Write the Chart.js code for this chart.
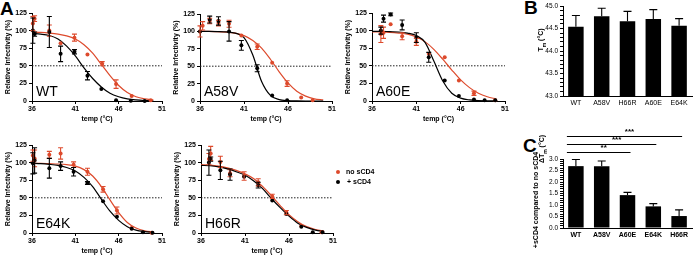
<!DOCTYPE html>
<html>
<head>
<meta charset="utf-8">
<script src="https://cdn.jsdelivr.net/npm/chart.js@4.4.1/dist/chart.umd.min.js"></script>
<style>
  body { margin: 0; width: 696px; height: 256px; position: relative; background: #fff; overflow: hidden;
         font-family: "Liberation Sans", Arial, sans-serif; }
  .box { position: absolute; }
  .letter { position: absolute; font-weight: bold; font-size: 19px; line-height: 1; }
  .vtitle { position: absolute; transform: translate(-50%, -50%) rotate(-90deg); white-space: nowrap;
            font-weight: bold; font-size: 7px; line-height: 1; }
  .leg { position: absolute; font-weight: bold; font-size: 7px; line-height: 1; white-space: nowrap; }
  .dot { position: absolute; width: 4px; height: 4px; border-radius: 50%; }
</style>
</head>
<body>

<div class="letter" style="left:0;top:-1px">A</div>
<div class="letter" style="left:524px;top:-2px">B</div>
<div class="letter" style="left:523px;top:136px">C</div>

<div class="box" style="left:4px;top:0;width:164px;height:123px"><canvas id="c-wt"></canvas></div>
<div class="box" style="left:172px;top:0;width:166px;height:123px"><canvas id="c-a58v"></canvas></div>
<div class="box" style="left:344px;top:0;width:167px;height:123px"><canvas id="c-a60e"></canvas></div>
<div class="box" style="left:4px;top:120px;width:164px;height:135px"><canvas id="c-e64k"></canvas></div>
<div class="box" style="left:173px;top:120px;width:166px;height:135px"><canvas id="c-h66r"></canvas></div>
<div class="box" style="left:539px;top:0;width:157px;height:112px"><canvas id="c-tm"></canvas></div>
<div class="box" style="left:539px;top:120px;width:157px;height:124px"><canvas id="c-dtm"></canvas></div>

<div class="vtitle" style="left:542px;top:40px">T<sub style="font-size:5px">m</sub> (°C)</div>
<div class="vtitle" style="left:543px;top:149px">ΔT<sub style="font-size:5px">m</sub> (°C)</div>
<div class="vtitle" style="left:535px;top:200px">+sCD4 compared to no sCD4</div>

<div class="dot" style="left:336px;top:170px;background:#dd4a2c"></div>
<div class="leg" style="left:346px;top:168px">no sCD4</div>
<div class="dot" style="left:336px;top:180px;background:#000"></div>
<div class="leg" style="left:347px;top:178px">+ sCD4</div>

<script>
const RED = '#dd4a2c';
const BLACK = '#000';

const TEMP_TICKS = [36, 41, 46, 51];
const CUTOFF = 50;
const FIT_T = [36, 37, 38, 39, 40, 41, 42, 43, 44, 45, 46, 47, 48, 49, 50];

// WT
const wtFitNo   = [98, 97.5, 96.5, 95, 92.5, 88, 80, 68, 52, 36, 22, 12, 6, 3, 1.5];
const wtFitPlus = [96, 95, 93, 88, 78, 64, 47, 32, 20, 11, 6, 3, 1.5, 0.7, 0.3];
const wtTNo     = [36.1, 36.3, 38.0, 39.3, 40.9, 42.4, 44.1, 45.7, 47.5, 49.7];
const wtNo      = [110, 117, 100, 82, 90, 66, 53, 24, 7, 1];
const wtNoErr   = [10, 4, 8, 0, 5, 0, 3, 6, 0, 0];
const wtTPlus   = [36.1, 36.3, 38.0, 39.3, 40.9, 42.4, 44.0, 45.7, 47.4, 49.0];
const wtPlus    = [100, 95, 98, 67, 70, 36, 17, 1, 0.5, 0];
const wtPlusErr = [18, 3, 22, 11, 3, 6, 0, 0, 0, 0];

// A58V
const a58FitNo   = [100, 100, 99.5, 99, 97.5, 94, 87, 76, 60, 42, 26, 14, 7, 3, 1.5];
const a58FitPlus = [100, 100, 99.8, 99.3, 97.5, 91, 66, 28, 8, 2, 0.5, 0.1, 0, 0, 0];
const a58TNo     = [36.0, 36.3, 37.1, 38.1, 39.3, 40.7, 42.5, 44.2, 45.9, 47.5, 48.8];
const a58No      = [100, 108, 115, 112, 111, 94, 78, 55, 25, 5, 1];
const a58NoErr   = [8, 6, 4, 4, 5, 0, 4, 0, 4, 0, 0];
const a58TPlus   = [36.0, 37.1, 38.1, 39.3, 40.7, 42.5, 44.2, 45.9];
const a58Plus    = [100, 117, 115, 100, 80, 47, 8, 1];
const a58PlusErr = [0, 5, 6, 14, 7, 5, 0, 0];

// A60E
const a60FitNo   = [98, 98, 97.5, 96.5, 95, 91, 84, 73, 59, 44, 30, 19, 11, 6, 3];
const a60FitPlus = [99, 99, 98.5, 98, 96.5, 93, 83, 56, 28, 11, 4, 1.5, 0.5, 0.2, 0];
const a60TNo     = [37.0, 37.3, 38.1, 39.4, 41.0, 42.4, 44.2, 45.8, 47.5, 49.9];
const a60No      = [95, 97, 109, 92, 84, 67, 62, 29, 11, 1];
const a60NoErr   = [12, 8, 0, 5, 5, 0, 0, 0, 3, 0];
const a60TPlus   = [37.0, 37.3, 38.1, 39.4, 41.0, 42.4, 44.2, 45.8, 47.5, 48.7, 49.9];
const a60Plus    = [100, 117, 123, 108, 90, 62, 29, 7, 2, 1, 1];
const a60PlusErr = [5, 5, 2, 7, 7, 7, 0, 0, 0, 0, 0];

// E64K
const e64FitNo   = [99, 99, 98.5, 98, 97, 95, 90, 81, 66, 47, 29, 15, 7, 3, 1.5];
const e64FitPlus = [99, 98.5, 97.5, 96, 93, 88, 79, 66, 48, 31, 18, 9, 4, 2, 1];
const e64TNo     = [36.1, 36.3, 38.0, 39.3, 40.8, 42.4, 44.2, 45.8, 47.5, 49.8];
const e64No      = [110, 106, 111, 113, 97, 87, 62, 32, 7, 0.5];
const e64NoErr   = [8, 12, 5, 8, 4, 5, 4, 5, 0, 0];
const e64TPlus   = [36.1, 36.3, 38.0, 39.3, 40.8, 42.4, 44.2, 45.8, 47.5, 48.8, 49.9];
const e64Plus    = [99, 103, 92, 95, 87, 71, 45, 23, 6, 1, 0.5];
const e64PlusErr = [15, 18, 14, 6, 6, 2, 0, 0, 0, 0, 0];

// H66R
const h66FitNo   = [97, 96.5, 95, 92.5, 89, 84, 77, 66, 53, 39, 26, 16, 9, 5, 2.5];
const h66FitPlus = [96, 95.5, 94, 91, 87, 82, 74, 63, 49, 36, 24, 14, 8, 4, 2];
const h66TNo     = [36.9, 37.1, 38.2, 39.3, 40.9, 42.5, 44.1, 45.7, 47.4, 49.7];
const h66No      = [105, 113, 101, 85, 81, 72, 52, 29, 10, 1];
const h66NoErr   = [8, 10, 8, 5, 6, 5, 3, 3, 0, 0];
const h66TPlus   = [36.9, 37.1, 38.2, 39.3, 40.9, 42.5, 44.1, 45.7, 47.4, 48.7, 49.8];
const h66Plus    = [100, 105, 89, 83, 80, 68, 46, 27, 9, 1, 1];
const h66PlusErr = [18, 3, 13, 8, 0, 4, 0, 0, 0, 0, 0];

// B: Tm
const tmLabels = ['WT', 'A58V', 'H66R', 'A60E', 'E64K'];
const tmValues = [44.54, 44.77, 44.66, 44.71, 44.56];
const tmErr    = [0.25, 0.18, 0.22, 0.21, 0.16];

// C: delta Tm
const dtmLabels = ['WT', 'A58V', 'A60E', 'E64K', 'H66R'];
const dtmValues = [2.69, 2.69, 1.43, 0.94, 0.52];
const dtmErr    = [0.29, 0.22, 0.12, 0.12, 0.27];
// [from, to, stars, height in axis units]
const dtmSig = [[0, 4, '***', 4.0], [0, 3, '***', 3.66], [0, 2, '**', 3.31]];

const tickFont = { family: 'Liberation Sans', size: 7, weight: 'bold' };
const axisLine = { color: BLACK, width: 1 };
const tickGrid = { drawOnChartArea: false, drawTicks: true, tickLength: 3, color: BLACK, lineWidth: 1 };

// error whiskers drawn through the y scale
const errorBars = {
    id: 'errorBars',
    afterDatasetsDraw(chart) {
        const ctx = chart.ctx, y = chart.scales.y;
        chart.data.datasets.forEach((ds, i) => {
            if (!ds.errors) return;
            const meta = chart.getDatasetMeta(i);
            ctx.save();
            ctx.strokeStyle = ds.errColor || ds.borderColor;
            ctx.lineWidth = 1.1;
            meta.data.forEach((el, j) => {
                const e = ds.errors[j];
                if (!e) return;
                const v = typeof ds.data[j] === 'object' ? ds.data[j].y : ds.data[j];
                const x = el.x;
                const top = y.getPixelForValue(v + e);
                const bot = ds.upOnly ? el.y : y.getPixelForValue(v - e);
                const cap = ds.capHalf || 2.5;
                ctx.beginPath();
                ctx.moveTo(x, top); ctx.lineTo(x, bot);
                ctx.moveTo(x - cap, top); ctx.lineTo(x + cap, top);
                if (!ds.upOnly) { ctx.moveTo(x - cap, bot); ctx.lineTo(x + cap, bot); }
                ctx.stroke();
            });
            ctx.restore();
        });
    }
};

const panelName = {
    id: 'panelName',
    afterDraw(chart, args, opts) {
        if (!opts.text) return;
        const ctx = chart.ctx, a = chart.chartArea;
        ctx.save();
        ctx.font = '14px "Liberation Sans", Arial, sans-serif';
        ctx.fillStyle = BLACK;
        ctx.textBaseline = 'alphabetic';
        ctx.fillText(opts.text, a.left + 4, a.bottom - 5);
        ctx.restore();
    }
};

const sigLines = {
    id: 'sigLines',
    afterDraw(chart, args, opts) {
        if (!opts.pairs) return;
        const ctx = chart.ctx, x = chart.scales.x, y = chart.scales.y;
        ctx.save();
        ctx.strokeStyle = BLACK; ctx.fillStyle = BLACK; ctx.lineWidth = 1.1;
        ctx.font = 'bold 8px "Liberation Sans", Arial, sans-serif';
        ctx.textAlign = 'center'; ctx.textBaseline = 'bottom';
        opts.pairs.forEach(([a, b, s, h]) => {
            const x0 = x.getPixelForValue(a) - 9, x1 = x.getPixelForValue(b) + 3;
            const py = Math.round(y.getPixelForValue(h)) + 0.5;
            ctx.beginPath(); ctx.moveTo(x0, py); ctx.lineTo(x1, py); ctx.stroke();
            ctx.fillText(s, (x0 + x1) / 2 + 5, py - 1);
        });
        ctx.restore();
    }
};

Chart.register(errorBars, panelName, sigLines);
Chart.defaults.font.family = 'Liberation Sans';
Chart.defaults.color = BLACK;

function pts(xs, ys) { return xs.map((t, i) => ({ x: t, y: ys[i] })); }

function curvePanel(id, name, padTop, fitNo, fitPlus, tNo, vNo, eNo, tPlus, vPlus, ePlus) {
    new Chart(document.getElementById(id), {
        type: 'scatter',
        data: { datasets: [
            { data: pts(tNo, vNo), errors: eNo, borderColor: RED, backgroundColor: RED,
              pointRadius: 2, pointBorderWidth: 0, clip: false, order: 1 },
            { data: pts(tPlus, vPlus), errors: ePlus, borderColor: BLACK, backgroundColor: BLACK,
              pointRadius: 2, pointBorderWidth: 0, clip: false, order: 0 },
            { data: pts(FIT_T, fitNo), showLine: true, borderColor: RED, borderWidth: 1.2,
              pointRadius: 0, cubicInterpolationMode: 'monotone', order: 3 },
            { data: pts(FIT_T, fitPlus), showLine: true, borderColor: BLACK, borderWidth: 1.2,
              pointRadius: 0, cubicInterpolationMode: 'monotone', order: 2 },
            { data: [{ x: 36, y: CUTOFF }, { x: 51, y: CUTOFF }], showLine: true, borderColor: '#222',
              borderWidth: 1, borderDash: [1.5, 1.5], pointRadius: 0, order: 4 }
        ] },
        options: {
            responsive: true, maintainAspectRatio: false, animation: false,
            layout: { padding: { top: padTop, right: 6, left: 0, bottom: 0 } },
            scales: {
                x: { type: 'linear', min: 36, max: 51,
                     afterBuildTicks: s => { s.ticks = TEMP_TICKS.map(v => ({ value: v })); },
                     afterFit: s => { s.height = 22; },
                     border: axisLine, grid: tickGrid,
                     ticks: { font: tickFont, padding: 1, maxRotation: 0 },
                     title: { display: true, text: 'temp (°C)', font: tickFont, padding: 0 } },
                y: { min: 0, max: 125, ticks: { stepSize: 25, font: tickFont, padding: 2 },
                     afterFit: s => { s.width = 28; },
                     border: axisLine, grid: tickGrid,
                     title: { display: true, text: 'Relative Infectivity (%)', font: tickFont, padding: 0 } }
            },
            plugins: { legend: { display: false }, tooltip: { enabled: false }, panelName: { text: name } }
        }
    });
}

curvePanel('c-wt', 'WT', 13, wtFitNo, wtFitPlus, wtTNo, wtNo, wtNoErr, wtTPlus, wtPlus, wtPlusErr);
curvePanel('c-a58v', 'A58V', 14, a58FitNo, a58FitPlus, a58TNo, a58No, a58NoErr, a58TPlus, a58Plus, a58PlusErr);
curvePanel('c-a60e', 'A60E', 13, a60FitNo, a60FitPlus, a60TNo, a60No, a60NoErr, a60TPlus, a60Plus, a60PlusErr);
curvePanel('c-e64k', 'E64K', 25, e64FitNo, e64FitPlus, e64TNo, e64No, e64NoErr, e64TPlus, e64Plus, e64PlusErr);
curvePanel('c-h66r', 'H66R', 25, h66FitNo, h66FitPlus, h66TNo, h66No, h66NoErr, h66TPlus, h66Plus, h66PlusErr);

function barPanel(id, labels, values, errs, min, max, padTop, sig, bold) {
    new Chart(document.getElementById(id), {
        type: 'bar',
        data: { labels: labels, datasets: [
            { data: values, errors: errs, upOnly: true, capHalf: 4, backgroundColor: BLACK, borderColor: BLACK,
              barPercentage: 0.6, categoryPercentage: 1 }
        ] },
        options: {
            responsive: true, maintainAspectRatio: false, animation: false,
            layout: { padding: { top: padTop, right: 4, left: 0, bottom: 0 } },
            scales: {
                x: { border: axisLine, grid: { drawOnChartArea: false, drawTicks: false },
                     afterFit: s => { s.height = 16; },
                     ticks: { display: true, font: { family: 'Liberation Sans', size: 7, weight: bold ? 'bold' : 'normal' },
                              padding: 3, maxRotation: 0, minRotation: 0, autoSkip: false } },
                y: { min: min, max: max, border: axisLine, grid: tickGrid,
                     afterFit: s => { s.width = 24; },
                     ticks: { stepSize: 0.1, autoSkip: false, padding: 2,
                              font: { family: 'Liberation Sans', size: 6.5 },
                              callback: v => Math.abs(v * 2 - Math.round(v * 2)) < 1e-6 ? v.toFixed(1) : '' } }
            },
            plugins: { legend: { display: false }, tooltip: { enabled: false }, sigLines: { pairs: sig } }
        }
    });
}

barPanel('c-tm', tmLabels, tmValues, tmErr, 43, 45, 6, null, false);
barPanel('c-dtm', dtmLabels, dtmValues, dtmErr, 0, 3, 39, dtmSig, true);
</script>
</body>
</html>
